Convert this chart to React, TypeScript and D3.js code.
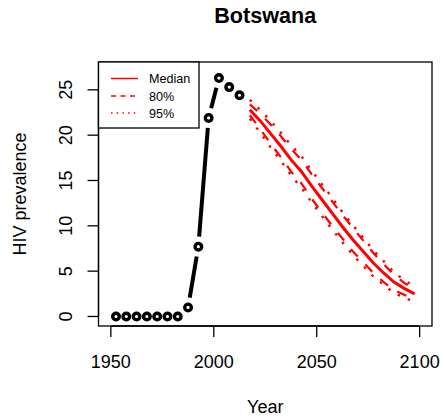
import React from "react";
import * as d3 from "d3";

const obsYears = [1952.5, 1957.5, 1962.5, 1967.5, 1972.5, 1977.5, 1982.5, 1987.5, 1992.5, 1997.5, 2002.5, 2007.5, 2012.5];
const obsValues = [0, 0, 0, 0, 0, 0, 0, 1.0, 7.7, 21.9, 26.3, 25.3, 24.4];

const projYears = [2017.5, 2022.5, 2027.5, 2032.5, 2037.5, 2042.5, 2047.5, 2052.5, 2057.5, 2062.5, 2067.5, 2072.5, 2077.5, 2082.5, 2087.5, 2092.5, 2097.5];
const median = [22.8, 21.6, 20.2, 18.8, 17.3, 16.0, 14.4, 12.9, 11.4, 9.9, 8.5, 7.2, 5.9, 4.8, 3.8, 3.1, 2.5];
const upper80 = [23.4, 22.4, 21.2, 19.9, 18.5, 17.3, 15.7, 14.2, 12.7, 11.2, 9.8, 8.4, 7.0, 5.8, 4.6, 3.7, 3.0];
const lower80 = [22.2, 20.7, 19.1, 17.6, 16.0, 14.7, 13.0, 11.5, 10.0, 8.6, 7.2, 6.0, 4.8, 3.8, 2.9, 2.4, 1.9];
const upper95 = [23.9, 22.8, 21.6, 20.3, 18.9, 17.7, 16.1, 14.6, 13.1, 11.5, 10.1, 8.7, 7.3, 6.1, 4.9, 4.0, 3.3];
const lower95 = [21.8, 20.3, 18.7, 17.2, 15.6, 14.2, 12.6, 11.1, 9.6, 8.2, 6.8, 5.6, 4.4, 3.5, 2.6, 2.1, 1.6];

const xTicks = [1950, 2000, 2050, 2100];
const yTicks = [0, 5, 10, 15, 20, 25];
const legendLabels = ["Median", "80%", "95%"];

const title = "Botswana";
const xLabel = "Year";
const yLabel = "HIV prevalence";

const W = 446;
const H = 419;
const box = { left: 98.5, right: 432, top: 62, bottom: 326 };
const FONT = "'Liberation Sans', Arial, Helvetica, sans-serif";

export default function App() {
  const x = d3.scaleLinear().domain([1944, 2106]).range([box.left, box.right]);
  const y = d3.scaleLinear().domain([-1.05, 28.07]).range([box.bottom, box.top]);

  const line = d3
    .line<[number, number]>()
    .x((d) => x(d[0]))
    .y((d) => y(d[1]));

  const zip = (a: number[], b: number[]) => a.map((v, i) => [v, b[i]] as [number, number]);

  // type="b" segments with gaps
  const gap = 10;
  const segs: { x1: number; y1: number; x2: number; y2: number }[] = [];
  for (let i = 0; i < obsYears.length - 1; i++) {
    const ax = x(obsYears[i]);
    const ay = y(obsValues[i]);
    const bx = x(obsYears[i + 1]);
    const by = y(obsValues[i + 1]);
    const dx = bx - ax;
    const dy = by - ay;
    const len = Math.sqrt(dx * dx + dy * dy);
    if (len > 2 * gap) {
      const ux = dx / len;
      const uy = dy / len;
      segs.push({ x1: ax + ux * gap, y1: ay + uy * gap, x2: bx - ux * gap, y2: by - uy * gap });
    }
  }

  const legendRows = [78.5, 96, 113];
  const legendStyles = [
    { dash: undefined, w: 1.5 },
    { dash: "5,4.5", w: 1.5 },
    { dash: "1.5,4.2", w: 1.5 },
  ];

  return (
    <svg
      width={W}
      height={H}
      style={{ position: "absolute", left: 0, top: 0, background: "#fff" }}
      fontFamily={FONT}
    >
      <rect x={0} y={0} width={W} height={H} fill="#fff" />
      {/* title */}
      <text x={(box.left + box.right) / 2} y={23} textAnchor="middle" fontWeight="bold" fontSize={21.6}>
        {title}
      </text>

      {/* projections */}
      <path d={line(zip(projYears, upper95)) || ""} fill="none" stroke="#ff0000" strokeWidth={2.4} strokeDasharray="2.5,8.5" />
      <path d={line(zip(projYears, lower95)) || ""} fill="none" stroke="#ff0000" strokeWidth={2.4} strokeDasharray="2.5,8.5" />
      <path d={line(zip(projYears, upper80)) || ""} fill="none" stroke="#ff0000" strokeWidth={2.2} strokeDasharray="10,11" />
      <path d={line(zip(projYears, lower80)) || ""} fill="none" stroke="#ff0000" strokeWidth={2.2} strokeDasharray="10,11" />
      <path d={line(zip(projYears, median)) || ""} fill="none" stroke="#ff0000" strokeWidth={3} />

      {/* observed */}
      {segs.map((s, i) => (
        <line key={i} x1={s.x1} y1={s.y1} x2={s.x2} y2={s.y2} stroke="#000" strokeWidth={4} />
      ))}
      {obsYears.map((yr, i) => (
        <circle key={yr} cx={x(yr)} cy={y(obsValues[i])} r={3.3} fill="#fff" stroke="#000" strokeWidth={3.4} />
      ))}

      {/* box */}
      <rect
        x={box.left}
        y={box.top}
        width={box.right - box.left}
        height={box.bottom - box.top}
        fill="none"
        stroke="#000"
        strokeWidth={1.3}
      />

      {/* x axis */}
      <line x1={x(xTicks[0])} x2={x(xTicks[xTicks.length - 1])} y1={box.bottom} y2={box.bottom} stroke="#000" strokeWidth={1.3} />
      {xTicks.map((t) => (
        <g key={t}>
          <line x1={x(t)} x2={x(t)} y1={box.bottom} y2={box.bottom + 11} stroke="#000" strokeWidth={1.3} />
          <text x={x(t)} y={368} textAnchor="middle" fontSize={18}>
            {t}
          </text>
        </g>
      ))}
      <text x={(box.left + box.right) / 2} y={413} textAnchor="middle" fontSize={18}>
        {xLabel}
      </text>

      {/* y axis */}
      <line x1={box.left} x2={box.left} y1={y(yTicks[0])} y2={y(yTicks[yTicks.length - 1])} stroke="#000" strokeWidth={1.3} />
      {yTicks.map((t) => (
        <g key={t}>
          <line x1={box.left - 11} x2={box.left} y1={y(t)} y2={y(t)} stroke="#000" strokeWidth={1.3} />
          <text
            transform={`translate(72,${y(t)}) rotate(-90)`}
            textAnchor="middle"
            fontSize={18}
          >
            {t}
          </text>
        </g>
      ))}
      <text
        transform={`translate(25.5,${(box.top + box.bottom) / 2}) rotate(-90)`}
        textAnchor="middle"
        fontSize={18}
      >
        {yLabel}
      </text>

      {/* legend */}
      <rect x={box.left} y={box.top} width={199 - box.left} height={128 - box.top} fill="#fff" stroke="#000" strokeWidth={1.3} />
      {legendLabels.map((lab, i) => (
        <g key={lab}>
          <line
            x1={111}
            x2={138}
            y1={legendRows[i]}
            y2={legendRows[i]}
            stroke="#ff0000"
            strokeWidth={legendStyles[i].w}
            strokeDasharray={legendStyles[i].dash}
          />
          <text x={149} y={legendRows[i] + 4.5} fontSize={12.6}>
            {lab}
          </text>
        </g>
      ))}
    </svg>
  );
}
